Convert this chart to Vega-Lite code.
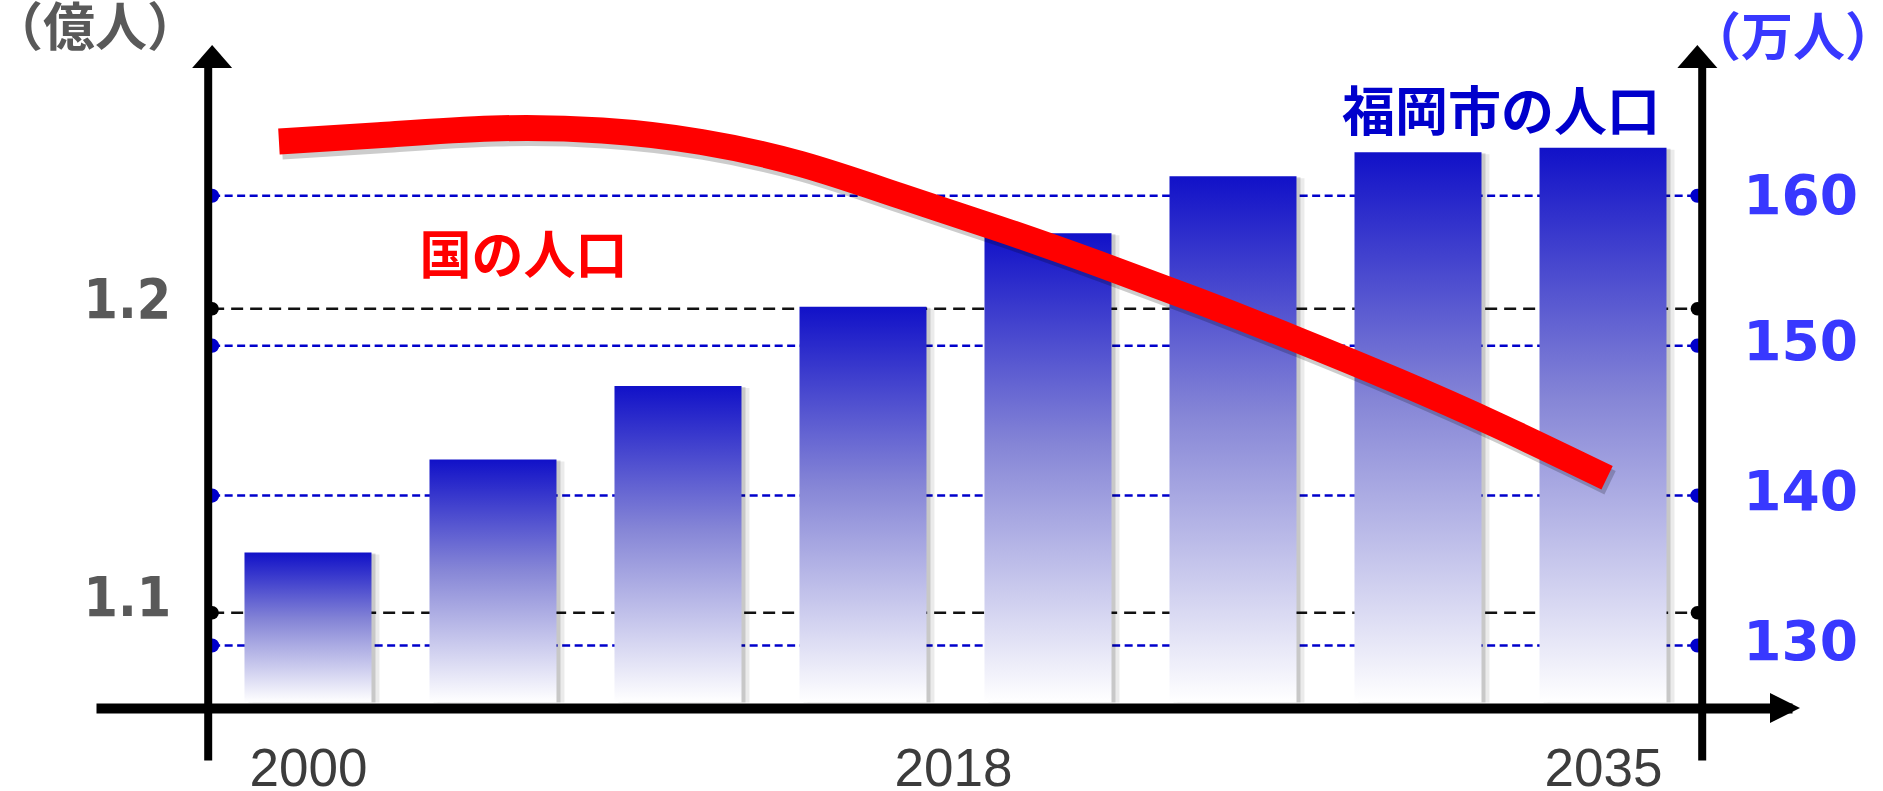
{
  "$schema": "https://vega.github.io/schema/vega-lite/v6.json",
  "width": 1696,
  "height": 702,
  "autosize": {"type": "none"},
  "padding": {"left": 96, "top": 58, "right": 91, "bottom": 31},
  "background": "white",
  "config": {"view": {"stroke": null}},
  "datasets": {
    "fukuoka": [
      {"year": 2000, "pop": 136.2},
      {"year": 2005, "pop": 142.4},
      {"year": 2010, "pop": 147.3},
      {"year": 2015, "pop": 152.6},
      {"year": 2020, "pop": 157.5},
      {"year": 2025, "pop": 161.3},
      {"year": 2030, "pop": 162.9},
      {"year": 2035, "pop": 163.2}
    ],
    "nation": [
      {"year": 1999.215, "pop": 1.25498},
      {"year": 2001.902, "pop": 1.25702},
      {"year": 2004.992, "pop": 1.25926},
      {"year": 2007.947, "pop": 1.25860},
      {"year": 2010.634, "pop": 1.25482},
      {"year": 2013.321, "pop": 1.24758},
      {"year": 2016.007, "pop": 1.23706},
      {"year": 2018.694, "pop": 1.22621},
      {"year": 2021.381, "pop": 1.21470},
      {"year": 2024.068, "pop": 1.20253},
      {"year": 2026.754, "pop": 1.18971},
      {"year": 2029.441, "pop": 1.17622},
      {"year": 2032.128, "pop": 1.16176},
      {"year": 2035.110, "pop": 1.14443}
    ],
    "blueTicks": [{"v": 130}, {"v": 140}, {"v": 150}, {"v": 160}],
    "blackTicks": [{"v": 1.1}, {"v": 1.2}]
  },
  "resolve": {"scale": {"y": "independent"}},
  "layer": [
    {
      "layer": [
        {
          "data": {"name": "blackTicks"},
          "mark": {"type": "rule", "color": "#111111", "strokeWidth": 2.5, "strokeDash": [12, 7]},
          "encoding": {
            "x": {
              "datum": 1997.41, "type": "quantitative",
              "scale": {"domain": [1994.406, 2039.973], "nice": false, "zero": false},
              "axis": {
                "title": null, "orient": "bottom", "offset": -52, "zindex": 1,
                "values": [2000, 2018, 2035], "format": "d",
                "domain": true, "domainColor": "#000000", "domainWidth": 10,
                "ticks": false, "tickSize": 0, "grid": false,
                "labelPadding": 35, "labelFont": "Liberation Sans", "labelFontSize": 53,
                "labelColor": "#3c3c3c", "labelFlush": false, "labelOverlap": false, "labelBound": false,
                "labelOffset": {"condition": {"test": "datum.value === 2018", "value": -21}, "value": 0}
              }
            },
            "x2": {"datum": 2037.55},
            "y": {
              "field": "v", "type": "quantitative",
              "scale": {"domain": [1.0516, 1.28244], "nice": false, "zero": false},
              "axis": {
                "title": null, "orient": "left", "offset": -111.7, "zindex": 1,
                "values": [1.1, 1.2], "format": ".1f",
                "domain": true, "domainColor": "#000000", "domainWidth": 8,
                "ticks": false, "tickSize": 0, "grid": false,
                "labelPadding": 37, "labelFont": "DejaVu Sans Condensed, DejaVu Sans", "labelFontWeight": "bold",
                "labelFontSize": 55, "labelColor": "#595959",
                "labelOffset": {"condition": {"test": "datum.value < 1.15", "value": -14}, "value": -8}
              }
            }
          }
        },
        {
          "data": {"name": "blackTicks"},
          "mark": {"type": "point", "filled": true, "size": 180, "color": "#000000", "opacity": 1},
          "encoding": {
            "x": {"datum": 1997.41, "type": "quantitative"},
            "y": {"field": "v", "type": "quantitative"}
          }
        },
        {
          "data": {"name": "blackTicks"},
          "mark": {"type": "point", "filled": true, "size": 180, "color": "#000000", "opacity": 1},
          "encoding": {
            "x": {"datum": 2037.55, "type": "quantitative"},
            "y": {"field": "v", "type": "quantitative"}
          }
        }
      ]
    },
    {
      "layer": [
        {
          "data": {"name": "blueTicks"},
          "mark": {"type": "rule", "color": "#0000CC", "strokeWidth": 2.5, "strokeDash": [8, 4.5]},
          "encoding": {
            "x": {"datum": 1997.41, "type": "quantitative"},
            "x2": {"datum": 2037.55},
            "y": {
              "field": "v", "type": "quantitative",
              "scale": {"domain": [122.36, 169.188], "nice": false, "zero": false},
              "axis": {
                "title": null, "orient": "right", "offset": -90.3, "zindex": 1,
                "values": [130, 140, 150, 160], "format": "d",
                "domain": true, "domainColor": "#000000", "domainWidth": 8,
                "ticks": false, "tickSize": 0, "grid": false,
                "labelPadding": 41, "labelFont": "DejaVu Sans", "labelFontWeight": "bold",
                "labelFontSize": 55, "labelColor": "#3838FF",
                "labelOffset": {"condition": {"test": "datum.value > 155", "value": 1}, "value": -3}
              }
            }
          }
        },
        {
          "data": {"name": "blueTicks"},
          "mark": {"type": "point", "filled": true, "size": 200, "color": "#0000CC", "opacity": 1},
          "encoding": {
            "x": {"datum": 1997.41, "type": "quantitative"},
            "y": {"field": "v", "type": "quantitative"}
          }
        },
        {
          "data": {"name": "blueTicks"},
          "mark": {"type": "point", "filled": true, "size": 200, "color": "#0000CC", "opacity": 1},
          "encoding": {
            "x": {"datum": 2037.55, "type": "quantitative"},
            "y": {"field": "v", "type": "quantitative"}
          }
        },
        {
          "data": {"name": "fukuoka"},
          "mark": {"type": "bar", "width": 127, "color": "#000000", "opacity": 0.08, "xOffset": 8, "yOffset": 2},
          "encoding": {
            "x": {"field": "year", "type": "quantitative"},
            "y": {"field": "pop", "type": "quantitative"},
            "y2": {"datum": 126.2}
          }
        },
        {
          "data": {"name": "fukuoka"},
          "mark": {"type": "bar", "width": 127, "color": "#000000", "opacity": 0.15, "xOffset": 4, "yOffset": 1},
          "encoding": {
            "x": {"field": "year", "type": "quantitative"},
            "y": {"field": "pop", "type": "quantitative"},
            "y2": {"datum": 126.2}
          }
        },
        {
          "data": {"name": "fukuoka"},
          "mark": {
            "type": "bar", "width": 127,
            "color": {
              "gradient": "linear", "x1": 0, "y1": 0, "x2": 0, "y2": 1,
              "stops": [
                {"offset": 0, "color": "#1111C8"},
                {"offset": 0.45, "color": "#8585D6"},
                {"offset": 1, "color": "#FFFFFF"}
              ]
            }
          },
          "encoding": {
            "x": {"field": "year", "type": "quantitative"},
            "y": {"field": "pop", "type": "quantitative"},
            "y2": {"datum": 126.2}
          }
        },
        {
          "data": {"values": [{}]},
          "mark": {"type": "point", "filled": true, "opacity": 1, "color": "#000000", "size": 1600, "shape": "M0,-0.575L-1,0.575L1,0.575Z"},
          "encoding": {
            "x": {"datum": 1997.41, "type": "quantitative"},
            "y": {"datum": 169.288, "type": "quantitative"}
          }
        },
        {
          "data": {"values": [{}]},
          "mark": {"type": "point", "filled": true, "opacity": 1, "color": "#000000", "size": 1600, "shape": "M0,-0.575L-1,0.575L1,0.575Z"},
          "encoding": {
            "x": {"datum": 2037.55, "type": "quantitative"},
            "y": {"datum": 169.288, "type": "quantitative"}
          }
        },
        {
          "data": {"values": [{}]},
          "mark": {"type": "point", "filled": true, "opacity": 1, "color": "#000000", "size": 900, "shape": "M1,0L-1,-1L-1,1Z"},
          "encoding": {
            "x": {"datum": 2039.919, "type": "quantitative"},
            "y": {"datum": 125.83, "type": "quantitative"}
          }
        },
        {
          "data": {"values": [{"t": "福岡市の人口"}]},
          "mark": {"type": "text", "font": "Noto Sans CJK JP", "fontWeight": "bold", "fontSize": 53, "color": "#0000CC", "align": "center", "baseline": "middle"},
          "encoding": {
            "x": {"datum": 2032.24, "type": "quantitative"},
            "y": {"datum": 165.386, "type": "quantitative"},
            "text": {"field": "t"}
          }
        },
        {
          "data": {"values": [{"t": "（万人）"}]},
          "mark": {"type": "text", "font": "Noto Sans CJK JP", "fontWeight": "bold", "fontSize": 52, "color": "#3838FF", "align": "center", "baseline": "middle"},
          "encoding": {
            "x": {"datum": 2040.134, "type": "quantitative"},
            "y": {"datum": 170.4, "type": "quantitative"},
            "text": {"field": "t"}
          }
        }
      ]
    },
    {
      "layer": [
        {
          "data": {"name": "nation"},
          "mark": {"type": "line", "interpolate": "natural", "strokeWidth": 26, "strokeCap": "butt", "color": "#000000", "opacity": 0.2, "xOffset": 3, "yOffset": 5},
          "encoding": {
            "x": {"field": "year", "type": "quantitative"},
            "y": {
              "field": "pop", "type": "quantitative",
              "scale": {"domain": [1.0516, 1.28244], "nice": false, "zero": false},
              "axis": null
            }
          }
        },
        {
          "data": {"name": "nation"},
          "mark": {"type": "line", "interpolate": "natural", "strokeWidth": 26, "strokeCap": "butt", "color": "#FF0000"},
          "encoding": {
            "x": {"field": "year", "type": "quantitative"},
            "y": {"field": "pop", "type": "quantitative"}
          }
        },
        {
          "data": {"values": [{"t": "国の人口"}]},
          "mark": {"type": "text", "font": "Noto Sans CJK JP", "fontWeight": "bold", "fontSize": 52, "color": "#FF0000", "align": "center", "baseline": "middle"},
          "encoding": {
            "x": {"datum": 2005.825, "type": "quantitative"},
            "y": {"datum": 1.21651, "type": "quantitative"},
            "text": {"field": "t"}
          }
        },
        {
          "data": {"values": [{"t": "（億人）"}]},
          "mark": {"type": "text", "font": "Noto Sans CJK JP", "fontWeight": "bold", "fontSize": 52, "color": "#595959", "align": "center", "baseline": "middle"},
          "encoding": {
            "x": {"datum": 1994.245, "type": "quantitative"},
            "y": {"datum": 1.2916, "type": "quantitative"},
            "text": {"field": "t"}
          }
        }
      ]
    }
  ]
}
